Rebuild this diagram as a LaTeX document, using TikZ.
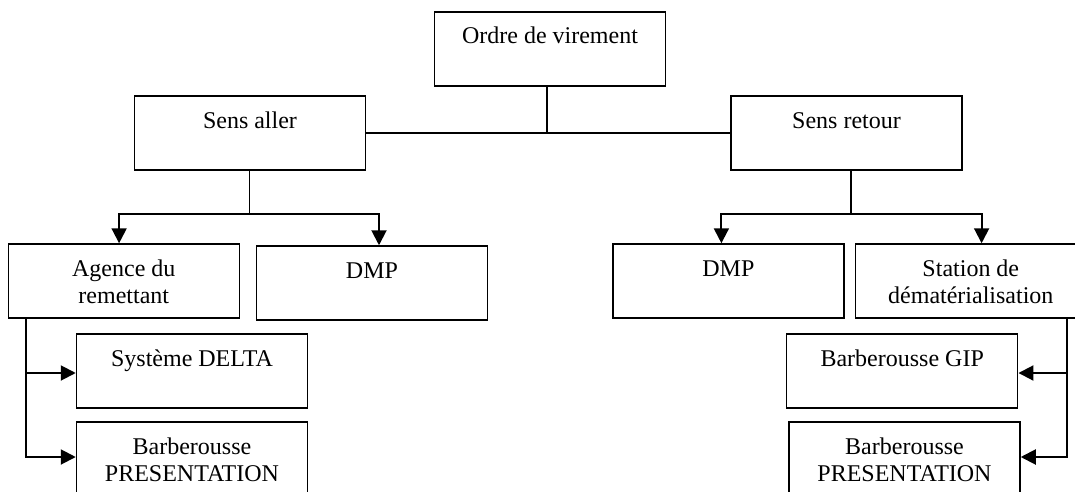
\documentclass[tikz,border=0pt]{standalone}
\usepackage{fontspec}
\setmainfont{Liberation Serif}
\usetikzlibrary{arrows.meta,calc}

% Box label: first baseline 32pt below the top edge, text centred
\newcommand{\boxlabel}[1]{\parbox[c][74pt][t]{231pt}{\centering\rule{0pt}{32pt}#1}}

\begin{document}
\begin{tikzpicture}[x=1pt,y=-1pt,
  box/.style={draw,line width=1.5pt,inner sep=0pt,
    font=\fontsize{24}{27.5}\selectfont},
  link/.style={line width=1.3pt},
  arr/.style={line width=2pt,-{Triangle[length=15pt 0 0,width=15pt 0 0]}},
  armline/.style={line width=2pt}]
\useasboundingbox (0,0) rectangle (1075,492);
\clip (0,0) rectangle (1075,492);

% Boxes
\node[box] (ordre)   at (550,49)    {\boxlabel{Ordre de virement}};
\node[box] (aller)   at (250,133)   {\boxlabel{Sens aller}};
\node[box] (retour)  at (846.5,133) {\boxlabel{Sens retour}};
\node[box] (agence)  at (123.8,281) {\boxlabel{Agence du\\remettant}};
\node[box] (dmpL)    at (372,283)   {\boxlabel{DMP}};
\node[box] (dmpR)    at (728.4,281) {\boxlabel{DMP}};
\node[box] (station) at (970.8,281) {\boxlabel{Station de\\dématérialisation}};
\node[box] (delta)   at (192,371)   {\boxlabel{Système DELTA}};
\node[box] (barbL)   at (192,459)   {\boxlabel{Barberousse\\PRESENTATION}};
\node[box] (gip)     at (902.2,371) {\boxlabel{Barberousse GIP}};
\node[box] (barbR)   at (904.5,459) {\boxlabel{Barberousse\\PRESENTATION}};

% Top level: order splits into both directions
\draw[link] (aller.east) -- (retour.west);
\coordinate (otop) at ($(ordre.south)+(-3,0)$);
\draw[link] (otop) -- (otop |- aller.east);

% Outgoing direction
\coordinate (aj) at ($(aller.south)+(-0.7,43)$);
\draw[link] ($(aller.south)+(-0.7,0)$) -- (aj);
\draw[arr] (aj) -| ($(agence.north)+(-4.7,0)$);
\draw[arr] (aj) -| ($(dmpL.north)+(7,0)$);

% Return direction
\coordinate (rj) at ($(retour.south)+(4.5,43)$);
\draw[link] ($(retour.south)+(4.5,0)$) -- (rj);
\draw[arr] (rj) -| ($(dmpR.north)+(-7,0)$);
\draw[arr] (rj) -| ($(station.north)+(10.8,0)$);

% Agence du remettant feeds DELTA and PRESENTATION
\coordinate (ag) at ($(agence.south west)+(18.6,0)$);
\coordinate (agd) at ($(delta.west)+(0,2)$);
\coordinate (agb) at ($(barbL.west)+(0,-2)$);
\draw[armline] (ag) |- ($(agb)+(-12,0)$);
\draw[arr] (ag |- agd) -- (agd);
\draw[arr] (ag |- agb) -- (agb);

% Station de dematerialisation feeds GIP and PRESENTATION
\coordinate (st) at ($(station.south west)+(212.7,0)$);
\coordinate (std) at ($(gip.east)+(0,2)$);
\coordinate (stb) at ($(barbR.east)+(0,-2)$);
\draw[armline] (st) |- ($(stb)+(12,0)$);
\draw[arr] (st |- std) -- (std);
\draw[arr] (st |- stb) -- (stb);
\end{tikzpicture}
\end{document}
